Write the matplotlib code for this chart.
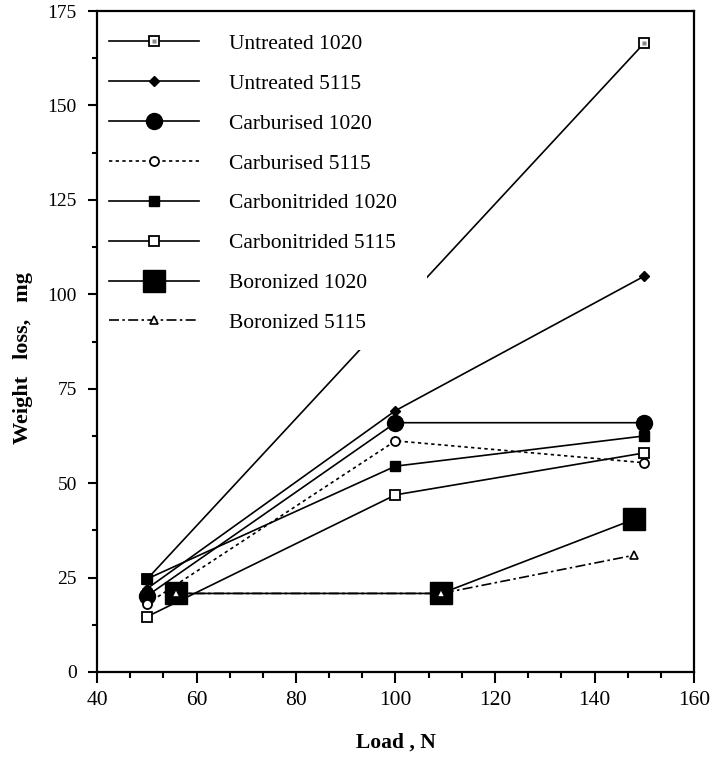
import matplotlib
matplotlib.use('Agg')
import matplotlib.pyplot as plt
from matplotlib.patches import Rectangle
from matplotlib.ticker import MultipleLocator, AutoMinorLocator
from matplotlib.legend_handler import HandlerTuple

# data (Load in N, weight loss in mg)
untreated_1020_x = [50, 150]
untreated_1020_y = [24.5, 166.5]
untreated_5115_x = [50, 100, 150]
untreated_5115_y = [22, 69.2, 104.8]
carburised_1020_x = [50, 100, 150]
carburised_1020_y = [20.1, 66, 66]
carburised_5115_x = [50, 100, 150]
carburised_5115_y = [18, 61.2, 55.4]
carbonitrided_1020_x = [50, 100, 150]
carbonitrided_1020_y = [24.6, 54.5, 62.5]
carbonitrided_5115_x = [50, 100, 150]
carbonitrided_5115_y = [14.6, 46.9, 58]
boronized_1020_x = [55.8, 109.2, 147.9]
boronized_1020_y = [20.8, 20.8, 40.4]
boronized_5115_x = [55.8, 109.2, 147.9]
boronized_5115_y = [20.8, 20.8, 30.9]

labels = ['Untreated 1020', 'Untreated 5115', 'Carburised 1020',
          'Carburised 5115', 'Carbonitrided 1020', 'Carbonitrided 5115',
          'Boronized 1020', 'Boronized 5115']

plt.rcParams['font.family'] = ['Liberation Serif', 'DejaVu Serif']

fig = plt.figure(figsize=(7.12, 7.58), dpi=100)
ax = fig.add_axes([97 / 712, 86 / 758, 597 / 712, 661 / 758])

lw = 1.2
h1 = ax.plot(untreated_1020_x, untreated_1020_y, '-', color='black', lw=lw,
             marker='s', ms=7, mfc='white', mec='black', mew=1.3)[0]
h1b = ax.plot(untreated_1020_x, untreated_1020_y, ls='none', marker='s',
              ms=2.2, mfc='#888888', mec='none')[0]
h2 = ax.plot(untreated_5115_x, untreated_5115_y, '-', color='black', lw=lw,
             marker='D', ms=5.5, mfc='black', mec='black')[0]
h3 = ax.plot(carburised_1020_x, carburised_1020_y, '-', color='black', lw=lw,
             marker='o', ms=11.5, mfc='black', mec='black')[0]
h4 = ax.plot(carburised_5115_x, carburised_5115_y, color='black', lw=lw,
             ls=(0, (2, 2)), marker='o', ms=6.5, mfc='white', mec='black',
             mew=1.3)[0]
h5 = ax.plot(carbonitrided_1020_x, carbonitrided_1020_y, '-', color='black',
             lw=lw, marker='s', ms=7, mfc='black', mec='black')[0]
h6 = ax.plot(carbonitrided_5115_x, carbonitrided_5115_y, '-', color='black',
             lw=lw, marker='s', ms=7.5, mfc='white', mec='black', mew=1.3)[0]
h7 = ax.plot(boronized_1020_x, boronized_1020_y, '-', color='black', lw=lw,
             marker='s', ms=16, mfc='black', mec='black')[0]
h8 = ax.plot(boronized_5115_x, boronized_5115_y, color='black', lw=lw,
             ls=(0, (6, 2, 1.5, 2)), marker='^', ms=5.5, mfc='white',
             mec='black', mew=1.2, zorder=2.2)[0]

ax.set_xlim(40, 160)
ax.set_ylim(0, 175)
ax.xaxis.set_major_locator(MultipleLocator(20))
ax.xaxis.set_minor_locator(AutoMinorLocator(3))
ax.yaxis.set_major_locator(MultipleLocator(25))
ax.yaxis.set_minor_locator(AutoMinorLocator(2))

ax.tick_params(axis='x', which='major', direction='out', length=8,
               width=1.5, labelsize=15.5, pad=6)
ax.tick_params(axis='x', which='minor', direction='out', length=4.3,
               width=1.5)
ax.tick_params(axis='y', which='major', direction='out', length=6.5,
               width=1.5, labelsize=14, pad=8)
ax.tick_params(axis='y', which='minor', direction='out', length=3.6,
               width=1.5)
for s in ax.spines.values():
    s.set_linewidth(1.6)
    s.set_zorder(3)

ax.set_xlabel('Load , N', fontsize=15.5, fontweight='bold')
ax.set_ylabel('Weight   loss,   mg', fontsize=16, fontweight='bold')
ax.xaxis.set_label_coords(0.5, -0.091)
ax.yaxis.set_label_coords(-0.107, 0.475)

# white block behind the legend, hides the lines passing under it
ax.add_patch(Rectangle((0, 0.487), 0.553, 0.513, transform=ax.transAxes,
                       facecolor='white', edgecolor='none', zorder=2.4))

leg = ax.legend([(h1, h1b), h2, h3, h4, h5, h6, h7, h8], labels,
                handler_map={tuple: HandlerTuple(ndivide=1, pad=0)},
                loc='upper left', bbox_to_anchor=(0, 1 - 11 / 661),
                borderaxespad=0, borderpad=0.55, fontsize=15.5,
                handlelength=4.2, handletextpad=1.4, labelspacing=0.92,
                frameon=False, numpoints=1)
leg.set_zorder(2.5)

fig.savefig('out.png', dpi=100)
plt.close(fig)
